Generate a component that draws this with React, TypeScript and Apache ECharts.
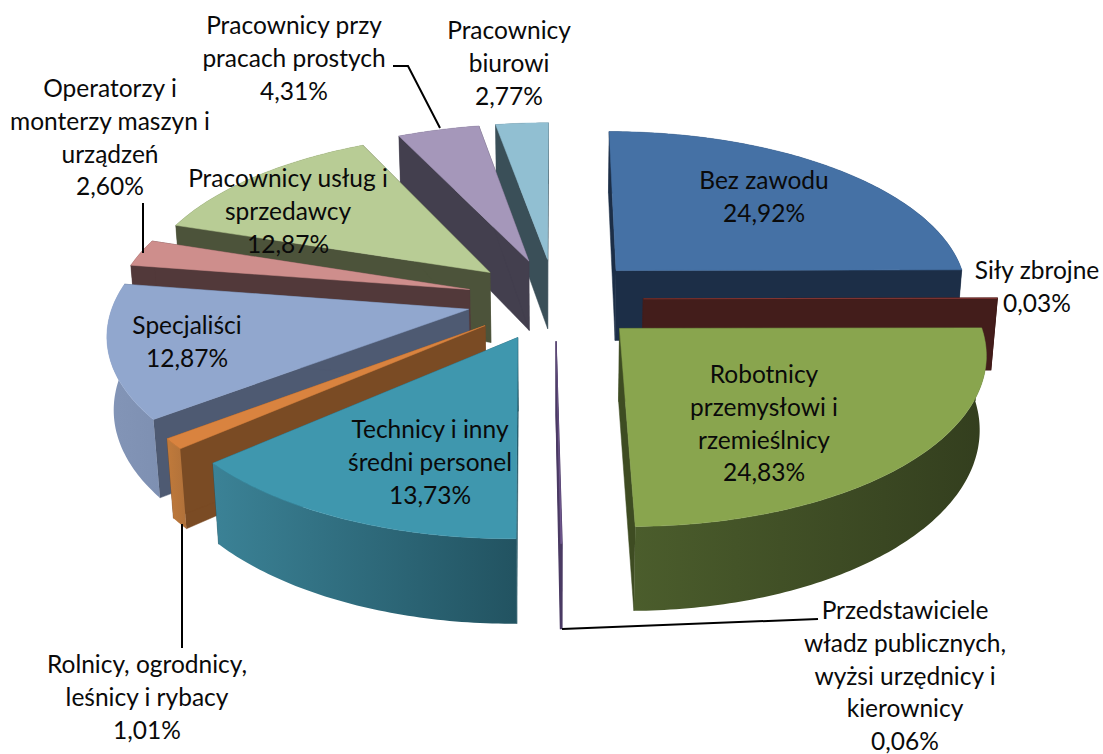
import React, { useEffect, useRef } from "react";
import * as echarts from "echarts";

const categories = [
  "Bez zawodu",
  "Siły zbrojne",
  "Robotnicy\nprzemysłowi i\nrzemieślnicy",
  "Przedstawiciele\nwładz publicznych,\nwyżsi urzędnicy i\nkierownicy",
  "Technicy i inny\nśredni personel",
  "Rolnicy, ogrodnicy,\nleśnicy i rybacy",
  "Specjaliści",
  "Operatorzy i\nmonterzy maszyn i\nurządzeń",
  "Pracownicy usług i\nsprzedawcy",
  "Pracownicy przy\npracach prostych",
  "Pracownicy\nbiurowi",
];
const shares = [24.92, 0.03, 24.83, 0.06, 13.73, 1.01, 12.87, 2.6, 12.87, 4.31, 2.77];

const topColors = ["#4571A5", "#AA4643", "#89A54E", "#71588F", "#3F97AE", "#D9833F", "#91A7CE", "#CE8E8C", "#B8CC95", "#A597BA", "#91BFD2"];
const radialColors = ["#1C2E47", "#431D1B", "#3E4C22", "#4A3A63", "#225361", "#7A4B24", "#4E5A72", "#52393A", "#4C533A", "#433F4E", "#3A4F58"];
const arcLeftColors = ["#1C2E47", "#431D1B", "#4B5D2C", "#4A3A63", "#3B8296", "#C07A3B", "#8395B7", "#52393A", "#4C533A", "#433F4E", "#3A4F58"];
const arcRightColors = ["#1C2E47", "#431D1B", "#333E1E", "#4A3A63", "#225361", "#B0713A", "#7E90B2", "#52393A", "#4C533A", "#433F4E", "#3A4F58"];

// label anchors: centre x, middle of first line
const labelX = [764, 1037, 764, 905, 430, 147, 187, 110, 288, 294, 509];
const labelY = [180, 270, 374, 610, 429, 664, 325, 88, 178, 25, 30];

const leaderLines = [
  [[393, 66], [408, 66], [440, 128]],
  [[143, 203], [143, 253]],
  [[182, 524], [182, 648]],
  [[818, 619], [562, 629]],
];

const FONT = "Lato, 'Noto Sans', sans-serif";
const FONT_SIZE = 24.5;
const LINE = 32.6;
const VALUE_LINE = 20;

// camera
const CX = 555, CY = 299, S = 354, SK = 164, P = 0.13, H = 71.5, Q = 0.015, EXPLODE = 0.25;

function project(X: number, Y: number, Z: number) {
  const w = 1 - P * Y;
  return [CX + (S * X) / (w + Q * Z), CY + (SK * Y + H * Z) / w];
}

const total = shares.reduce((a, b) => a + b, 0);
const rows = shares.map((v, i) => {
  const start = shares.slice(0, i).reduce((a, b) => a + b, 0);
  return { i, v, start, end: start + v };
});
const depth = (r: { start: number; end: number }) => -Math.cos((((r.start + r.end) / 2) / total) * 2 * Math.PI);
const paintOrder = [...rows].sort((a, b) => depth(a) - depth(b));

function renderSlice(_: any, api: any) {
  const a0 = (api.value(1) / total) * 2 * Math.PI;
  const a1 = (api.value(2) / total) * 2 * Math.PI;
  const idx = api.value(3);
  const m = (a0 + a1) / 2;
  const ox = EXPLODE * Math.sin(m), oy = -EXPLODE * Math.cos(m);
  const arc: number[] = [];
  const n = Math.max(1, Math.ceil((a1 - a0) / 0.015));
  for (let k = 0; k <= n; k++) arc.push(a0 + ((a1 - a0) * k) / n);
  const pt = (a: number, z: number) => project(ox + Math.sin(a), oy - Math.cos(a), z);
  const apex = (z: number) => project(ox, oy, z);
  const thin = a1 - a0 < 0.02;
  const radial = (a: number) => ({
    type: "polygon",
    shape: { points: [apex(0), pt(a, 0), pt(a, 1), apex(1)] },
    style: { fill: radialColors[idx], stroke: radialColors[idx], lineWidth: thin ? 1.2 : 0.5 },
  });
  const topArc = arc.map((a) => pt(a, 0));
  const botArc = arc.map((a) => pt(a, 1)).reverse();
  const wallFill = thin
    ? arcLeftColors[idx]
    : new echarts.graphic.LinearGradient(0, 0, 1, 0, [
        { offset: 0, color: arcLeftColors[idx] },
        { offset: 1, color: arcRightColors[idx] },
      ]);
  return {
    type: "group",
    children: [
      radial(a0),
      radial(a1),
      { type: "polygon", shape: { points: [...topArc, ...botArc] }, style: { fill: wallFill } },
      {
        type: "polygon",
        shape: { points: [apex(0), ...topArc] },
        style: { fill: topColors[idx], stroke: topColors[idx], lineWidth: thin ? 0.3 : 0.5 },
      },
    ],
  };
}

const pct = (v: number) => v.toFixed(2).replace(".", ",") + "%";

export default function App() {
  const ref = useRef<HTMLDivElement>(null);
  useEffect(() => {
    const chart = echarts.init(ref.current!, undefined, { renderer: "svg" });
    const textStyle = {
      fill: "#0a0a0a",
      font: `${FONT_SIZE}px ${FONT}`,
      textAlign: "center",
      textVerticalAlign: "top",
    };
    chart.setOption({
      animation: false,
      backgroundColor: "#ffffff",
      series: [
        {
          type: "custom",
          coordinateSystem: "none",
          renderItem: renderSlice,
          silent: true,
          data: paintOrder.map((r) => ({ name: categories[r.i], value: [r.v, r.start, r.end, r.i] })),
        },
      ],
      graphic: [
        ...leaderLines.map((pts) => ({
          type: "polyline",
          z: 50,
          shape: { points: pts },
          style: { stroke: "#000000", lineWidth: 2, fill: "none" },
        })),
        ...categories.map((c, i) => ({
          type: "text",
          z: 60,
          x: labelX[i],
          y: labelY[i] - LINE / 2,
          style: { ...textStyle, text: c, lineHeight: LINE },
        })),
        ...categories.map((c, i) => ({
          type: "text",
          z: 60,
          x: labelX[i],
          y: labelY[i] + c.split("\n").length * LINE - VALUE_LINE / 2,
          style: { ...textStyle, text: pct(shares[i]), lineHeight: VALUE_LINE },
        })),
      ],
    });
    return () => chart.dispose();
  }, []);
  return <div ref={ref} style={{ position: "fixed", left: 0, top: 0, width: 1103, height: 754 }} />;
}
